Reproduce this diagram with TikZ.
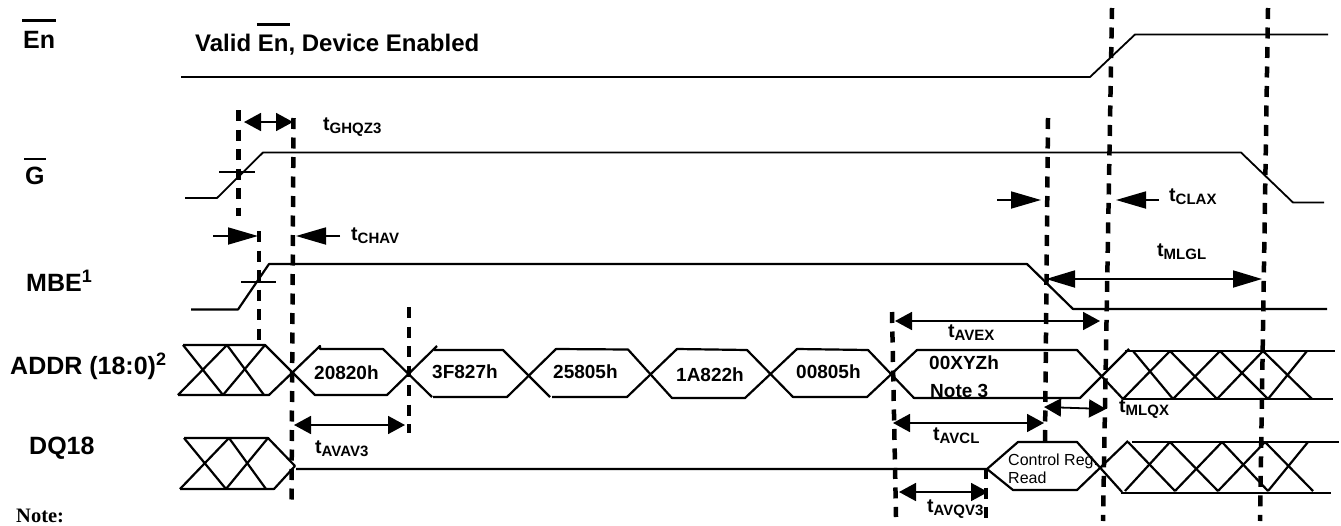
\documentclass[tikz,border=0pt]{standalone}
\usepackage{fontspec}
\usepackage{tikz}
\usetikzlibrary{arrows.meta}
\setmainfont{Liberation Sans}
\newfontfamily\notefont{Liberation Serif}
\newcommand{\ovl}[2]{\setbox0\hbox{#2}\rlap{\kern-1pt\rule[#1]{\dimexpr\wd0+2pt\relax}{2.5pt}}\box0}
\newcommand{\tname}[1]{t\raisebox{-3.5pt}{\fontsize{15}{15}\selectfont #1}}
\newcommand{\sups}[1]{\raisebox{9pt}{\fontsize{18}{18}\selectfont #1}}
\tikzset{
    sig/.style={inner sep=0pt,anchor=base west,font=\fontsize{25}{30}\selectfont\bfseries},
    hexlab/.style={inner sep=0pt,anchor=base west,font=\fontsize{19}{23}\selectfont\bfseries},
    tlab/.style={inner sep=0pt,anchor=base west,font=\fontsize{19.5}{23}\selectfont\bfseries},
    wave/.style={line width=2.2pt,line join=round},
    thin wave/.style={line width=1.8pt,line join=round},
    guide/.style={line width=4.5pt,dash pattern=on 11pt off 8.5pt},
    span/.style={line width=1.8pt,{Triangle[length=17pt,width=18pt]}-{Triangle[length=17pt,width=18pt]}},
    long span/.style={line width=1.8pt,{Triangle[length=29pt,width=17pt]}-{Triangle[length=29pt,width=17pt]}},
    point/.style={line width=1.8pt,-{Triangle[length=30pt,width=17pt]}}
}
\begin{document}
\begin{tikzpicture}[x=1pt,y=-1pt]
    \useasboundingbox (0,0) rectangle (1341,525);
    % labels
    \node (enLab) [sig] at (23,48) {\ovl{26.5pt}{En}};
    \node (validLab) [sig,font=\fontsize{24}{30}\selectfont\bfseries] at (195,51.5) {Valid \ovl{26pt}{En}, Device Enabled};
    \node (gLab) [sig] at (25,184) {\ovl{24pt}{G}};
    \node (mbeLab) [sig] at (26,291) {MBE\sups{1}};
    \node (addrLab) [sig] at (10,374) {ADDR (18:0)\sups{2}};
    \node (dqLab) [sig] at (29,454) {DQ18};
    \node (noteLab) [inner sep=0pt,anchor=base west,font=\fontsize{20.5}{24}\notefont\bfseries] at (16,522) {Note:};
    % values
    \foreach \nm/\x/\y/\txt in {a/314/379/20820h,b/432/378/3F827h,c/553/378/25805h,d/676/381/1A822h,e/796/378/00805h,f/929/369/00XYZh,g/930/397/Note 3} {
        \node (val\nm) [hexlab] at (\x,\y) {\txt};
    }
    \node (ctlLab) [inner sep=0pt,anchor=base west,align=left,font=\fontsize{16}{18}\selectfont] at (1008,483) {Control Reg.\\Read};
    % timing names
    \foreach \nm/\x/\y in {GHQZ3/323/130,CHAV/351/240,AVAV3/315/453,AVEX/948/337,AVCL/933/440,MLQX/1119/412,AVQV3/927/512,CLAX/1169/201,MLGL/1157/256} {
        \node (t\nm) [tlab] at (\x,\y) {\tname{\nm}};
    }
    % single lines
    \draw[thin wave] (181,77) -- (1090,77) -- (1135,34.5) -- (1328,34.5);
    \draw[thin wave] (185,198) -- (217,198) -- (263,152.5) -- (1241,152.5) -- (1293,202.5) -- (1324,202.5);
    \draw[thin wave] (219,172) -- (255,172);
    \draw[wave] (191,309.5) -- (238,309.5) -- (269,264) -- (1027,264) -- (1073,309) -- (1327,309);
    \draw[thin wave] (241,282) -- (276,282);
    % addr bus
    \draw[wave] (183,345) -- (265,345) -- (315,395) -- (387,395) -- (437,346);
    \draw[wave] (178,395) -- (269,395) -- (320,346) -- (320,349) -- (383,349) -- (432,397);
    \draw[wave] (434,350) -- (503,350) -- (550,397);
    \draw[wave] (433,397) -- (507,397) -- (556,349) -- (628,349.5) -- (672,398) -- (745,398) -- (797,349) -- (868,350) -- (914,398) -- (1080,398) -- (1129,349);
    \draw[wave] (552,397) -- (627,397) -- (677,349) -- (747,350) -- (793,397) -- (867,397) -- (917,350) -- (1077,350) -- (1123,399);
    \foreach \xa/\xb in {183/223,227/178,227/264,265/223} {
        \draw[wave] (\xa,345) -- (\xb,395);
    }
    \draw[wave] (1125,351) -- (1335,351);
    \draw[wave] (1123,399) -- (1333,399);
    \foreach \xa/\xb in {1133/1173,1170/1123,1170/1217,1220/1173,1220/1268,1263/1217,1263/1312,1307/1268} {
        \draw[wave] (\xa,351) -- (\xb,399);
    }
    % dq bus
    \draw[wave] (184,438) -- (268,438) -- (295,466);
    \draw[wave] (180,489) -- (274,489) -- (295,466);
    \foreach \xa/\xb in {184/226,229/180,229/266,268/226} {
        \draw[wave] (\xa,438) -- (\xb,489);
    }
    \draw[wave] (296,469) -- (987,469) -- (1018,442) -- (1077,442) -- (1122,492);
    \draw[wave] (987,469) -- (1013,490) -- (1077,490) -- (1128,441);
    \draw[wave] (1132,442) -- (1339,442);
    \draw[wave] (1121,493) -- (1331,493);
    \foreach \xa/\xb in {1128/1175,1170/1125,1170/1218,1222/1175,1222/1268,1265/1218,1265/1313,1308/1268} {
        \draw[wave] (\xa,442) -- (\xb,491);
    }
    % guides
    \foreach \nm/\xa/\ya/\xb/\yb in {v1/238.5/110/238.5/216,v2/293.5/118/291.5/505,v3/259/231/259/347,v4/409/307/409/433,v5/892/312/896/517,v6/1048/118/1045/442,v7/1112/8/1103/521,v8/1268/8/1260/521,v9/986/468/986/524} {
        \coordinate (\nm a) at (\xa,\ya);
        \coordinate (\nm b) at (\xb,\yb);
        \draw[guide] (\nm a) -- (\nm b);
    }
    % spans
    \foreach \nm/\xa/\ya/\xb/\yb in {ghqz/244/122/293/122,avav/294/425/405/425,avex/895/321/1100/321,avcl/893/423/1044/423,mlqx/1044/407/1106/409,avqv/899/492/988/492} {
        \coordinate (\nm a) at (\xa,\ya);
        \coordinate (\nm b) at (\xb,\yb);
        \draw[span] (\nm a) -- (\nm b);
    }
    \coordinate (mlgla) at (1046,279);
    \coordinate (mlglb) at (1262,279);
    \draw[long span] (mlgla) -- (mlglb);
    % pointers
    \foreach \nm/\xa/\ya/\xb/\yb in {chl/213/236/258/236,chr/340/236/296/236,cll/997/200/1041/200,clr/1159/200/1116/200} {
        \coordinate (\nm a) at (\xa,\ya);
        \coordinate (\nm b) at (\xb,\yb);
        \draw[point] (\nm a) -- (\nm b);
    }
\end{tikzpicture}
\end{document}
